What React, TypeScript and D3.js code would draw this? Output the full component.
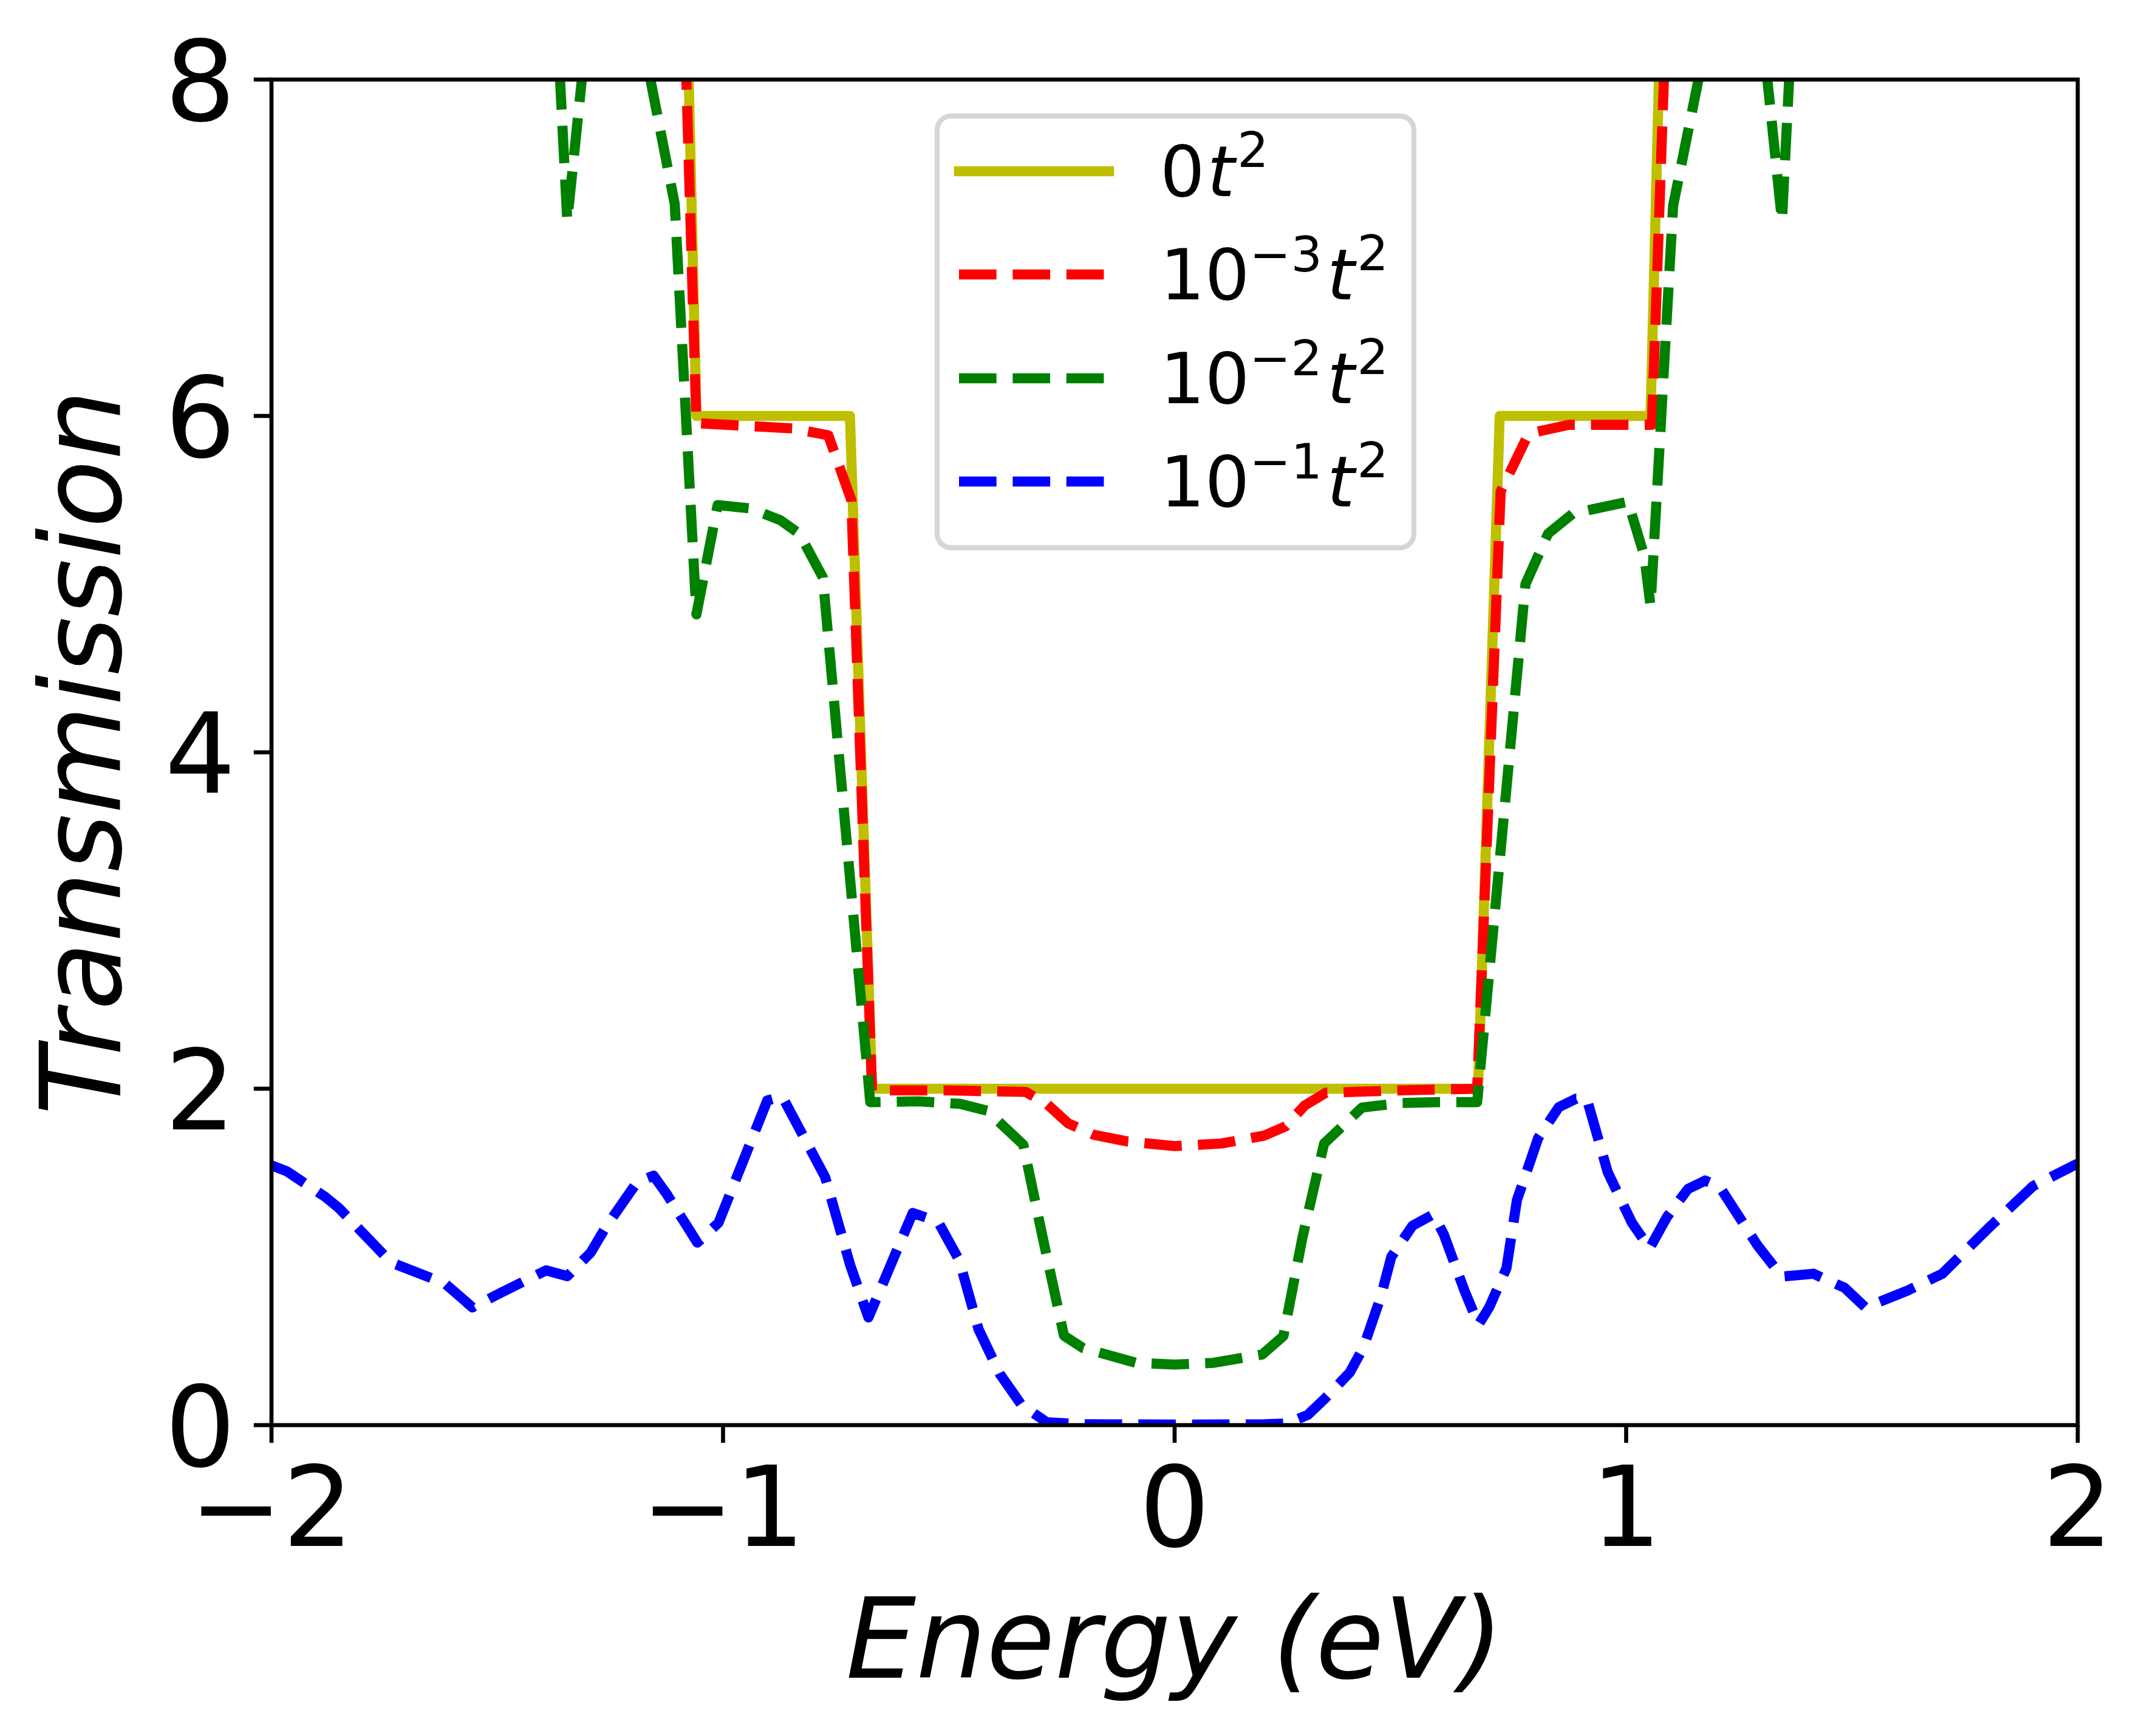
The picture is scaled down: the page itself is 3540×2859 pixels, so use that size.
import React, { useEffect } from "react";
import * as d3 from "d3";

// ---- data ----
const xTicks = [-2, -1, 0, 1, 2];
const yTicks = [0, 2, 4, 6, 8];

const seriesNames = ["0t2", "1e-3", "1e-2", "1e-1"];

const eYellow = [-1.09, -1.059, -0.719, -0.670, 0.672, 0.720, 1.054, 1.09];
const tYellow = [9.65, 6.0, 6.0, 2.0, 2.0, 6.0, 6.0, 9.9];

const eRed = [-1.09, -1.059, -0.847, -0.767, -0.716, -0.670, -0.50, -0.330, -0.283, -0.236, -0.179, -0.1035, 0, 0.1035, 0.198, 0.246, 0.288, 0.335, 0.50, 0.670, 0.722, 0.784, 0.873, 1.057, 1.09];
const tRed = [8.8, 5.957, 5.926, 5.885, 5.5, 1.99, 1.99, 1.981, 1.91, 1.795, 1.726, 1.686, 1.659, 1.674, 1.721, 1.777, 1.90, 1.976, 1.99, 2.0, 5.55, 5.895, 5.947, 5.947, 8.5];

const eGreen = [-1.38, -1.345, -1.305, -1.25, -1.19, -1.107, -1.059, -1.012, -0.939, -0.873, -0.831, -0.779, -0.674, -0.566, -0.475, -0.415, -0.335, -0.292, -0.245, -0.2025, -0.085, 0, 0.085, 0.194, 0.241, 0.283, 0.331, 0.415, 0.50, 0.58, 0.670, 0.777, 0.827, 0.882, 1.004, 1.040, 1.054, 1.104, 1.19, 1.25, 1.305, 1.345, 1.38];
const tGreen = [9.0, 7.16, 8.2, 10, 8.4, 7.26, 4.82, 5.47, 5.45, 5.38, 5.30, 5.04, 1.92, 1.925, 1.91, 1.869, 1.667, 1.114, 0.532, 0.458, 0.37, 0.36, 0.37, 0.42, 0.53, 1.114, 1.674, 1.888, 1.915, 1.92, 1.92, 5.0, 5.30, 5.42, 5.49, 5.17, 4.87, 7.25, 8.4, 10, 8.2, 7.16, 9.0];

const eBlue = [-2.0, -1.966, -1.881, -1.851, -1.735, -1.616, -1.555, -1.495, -1.392, -1.345, -1.293, -1.259, -1.19, -1.154, -1.126, -1.057, -1.010, -0.902, -0.869, -0.774, -0.7185, -0.678, -0.580, -0.524, -0.477, -0.434, -0.387, -0.339, -0.283, -0.2, 0, 0.2, 0.249, 0.295, 0.334, 0.388, 0.4185, 0.457, 0.480, 0.527, 0.573, 0.596, 0.642, 0.673, 0.6965, 0.735, 0.758, 0.805, 0.851, 0.8895, 0.9127, 0.959, 1.013, 1.052, 1.090, 1.137, 1.175, 1.206, 1.291, 1.345, 1.4145, 1.484, 1.530, 1.623, 1.700, 1.808, 1.901, 2.0];
const tBlue = [1.544, 1.509, 1.357, 1.291, 0.967, 0.842, 0.70, 0.783, 0.92, 0.886, 1.026, 1.18, 1.446, 1.483, 1.379, 1.085, 1.203, 1.93, 1.954, 1.475, 0.952, 0.64, 1.261, 1.21, 0.98, 0.569, 0.304, 0.12, 0.017, 0.005, 0.003, 0.005, 0.01, 0.061, 0.161, 0.313, 0.464, 0.766, 1.001, 1.186, 1.253, 1.135, 0.799, 0.598, 0.699, 0.934, 1.337, 1.706, 1.891, 1.941, 1.941, 1.505, 1.202, 1.051, 1.236, 1.404, 1.454, 1.421, 1.068, 0.883, 0.900, 0.816, 0.699, 0.80, 0.900, 1.186, 1.421, 1.555];

// ---- layout ----
const W = 3540;
const H = 2859;
const L = 447, R = 3421, T = 131, B = 2347;
const FONT = "'DejaVu Sans', sans-serif";
const LW = 16.67;
const DASH = "61.7 26.7";
const AXW = 6.67;
const TICK = 29.2;

const xScale = d3.scaleLinear().domain([-2, 2]).range([L, R]);
const yScale = d3.scaleLinear().domain([0, 8]).range([B, T]);

type S = { name: string; e: number[]; t: number[]; color: string; dash: string | undefined };
const series: S[] = [
  { name: seriesNames[0], e: eYellow, t: tYellow, color: "#bfbf00", dash: undefined },
  { name: seriesNames[1], e: eRed, t: tRed, color: "#ff0000", dash: DASH },
  { name: seriesNames[2], e: eGreen, t: tGreen, color: "#008000", dash: DASH },
  { name: seriesNames[3], e: eBlue, t: tBlue, color: "#0000ff", dash: DASH },
];

const lineGen = d3
  .line<[number, number]>()
  .x((d) => xScale(d[0]))
  .y((d) => yScale(d[1]));

function LegendLabel({ x, y, exp }: { x: number; y: number; exp: string | null }) {
  const fs = 116;
  const ss = 81;
  if (exp === null) {
    return (
      <text x={x} y={y} fontSize={fs} fontFamily={FONT}>
        <tspan>0</tspan>
        <tspan fontStyle="italic" dx={4}>t</tspan>
        <tspan fontSize={ss} dy={-48} dx={4}>2</tspan>
      </text>
    );
  }
  return (
    <text x={x} y={y} fontSize={fs} fontFamily={FONT}>
      <tspan>10</tspan>
      <tspan fontSize={ss} dy={-46}>{"\u2212" + exp}</tspan>
      <tspan fontStyle="italic" dy={46} dx={8}>t</tspan>
      <tspan fontSize={ss} dy={-48} dx={4}>2</tspan>
    </text>
  );
}

export default function App() {
  useEffect(() => {
    document.body.style.margin = "0";
    document.body.style.overflow = "hidden";
  }, []);

  const legendY = [282, 452, 623, 793];
  const legendExp: (string | null)[] = [null, "3", "2", "1"];

  return (
    <svg width={W} height={H} viewBox={`0 0 ${W} ${H}`} style={{ display: "block", background: "#fff" }}>
      <rect x={0} y={0} width={W} height={H} fill="#fff" />
      <defs>
        <clipPath id="plotclip">
          <rect x={L} y={T} width={R - L} height={B - T} />
        </clipPath>
      </defs>

      <g clipPath="url(#plotclip)">
        {series.map((s) => (
          <path
            key={s.name}
            d={lineGen(s.e.map((e, i) => [e, s.t[i]] as [number, number])) || ""}
            fill="none"
            stroke={s.color}
            strokeWidth={LW}
            strokeDasharray={s.dash}
            strokeLinejoin="round"
            strokeLinecap={s.dash ? "butt" : "square"}
          />
        ))}
      </g>

      {/* spines */}
      <rect x={L} y={T} width={R - L} height={B - T} fill="none" stroke="#000" strokeWidth={AXW} strokeLinecap="square" />

      {/* x ticks */}
      {xTicks.map((v) => (
        <g key={"x" + v}>
          <line x1={xScale(v)} x2={xScale(v)} y1={B} y2={B + TICK} stroke="#000" strokeWidth={AXW} />
          <text x={xScale(v)} y={2546} fontSize={183} fontFamily={FONT} textAnchor="middle">
            {v < 0 ? "\u2212" + Math.abs(v) : String(v)}
          </text>
        </g>
      ))}

      {/* y ticks */}
      {yTicks.map((v) => (
        <g key={"y" + v}>
          <line x1={L - TICK} x2={L} y1={yScale(v)} y2={yScale(v)} stroke="#000" strokeWidth={AXW} />
          <text x={388} y={yScale(v) + 67} fontSize={183} fontFamily={FONT} textAnchor="end">
            {String(v)}
          </text>
        </g>
      ))}

      {/* axis labels */}
      <text x={(L + R) / 2} y={2763} fontSize={183} fontFamily={FONT} fontStyle="italic" textAnchor="middle">
        Energy (eV)
      </text>
      <text
        transform={`translate(198, ${(T + B) / 2}) rotate(-90)`}
        fontSize={183}
        fontFamily={FONT}
        fontStyle="italic"
        textAnchor="middle"
      >
        Transmission
      </text>

      {/* legend */}
      <rect x={1543} y={191} width={785} height={711} rx={23} ry={23} fill="#fff" fillOpacity={0.8} stroke="#d6d6d6" strokeWidth={8.3} />
      {series.map((s, i) => (
        <g key={"leg" + s.name}>
          <line
            x1={1579}
            x2={1826}
            y1={legendY[i]}
            y2={legendY[i]}
            stroke={s.color}
            strokeWidth={LW}
            strokeDasharray={s.dash}
            strokeLinecap={s.dash ? "butt" : "square"}
          />
          <LegendLabel x={1910} y={legendY[i] + 41} exp={legendExp[i]} />
        </g>
      ))}
    </svg>
  );
}
